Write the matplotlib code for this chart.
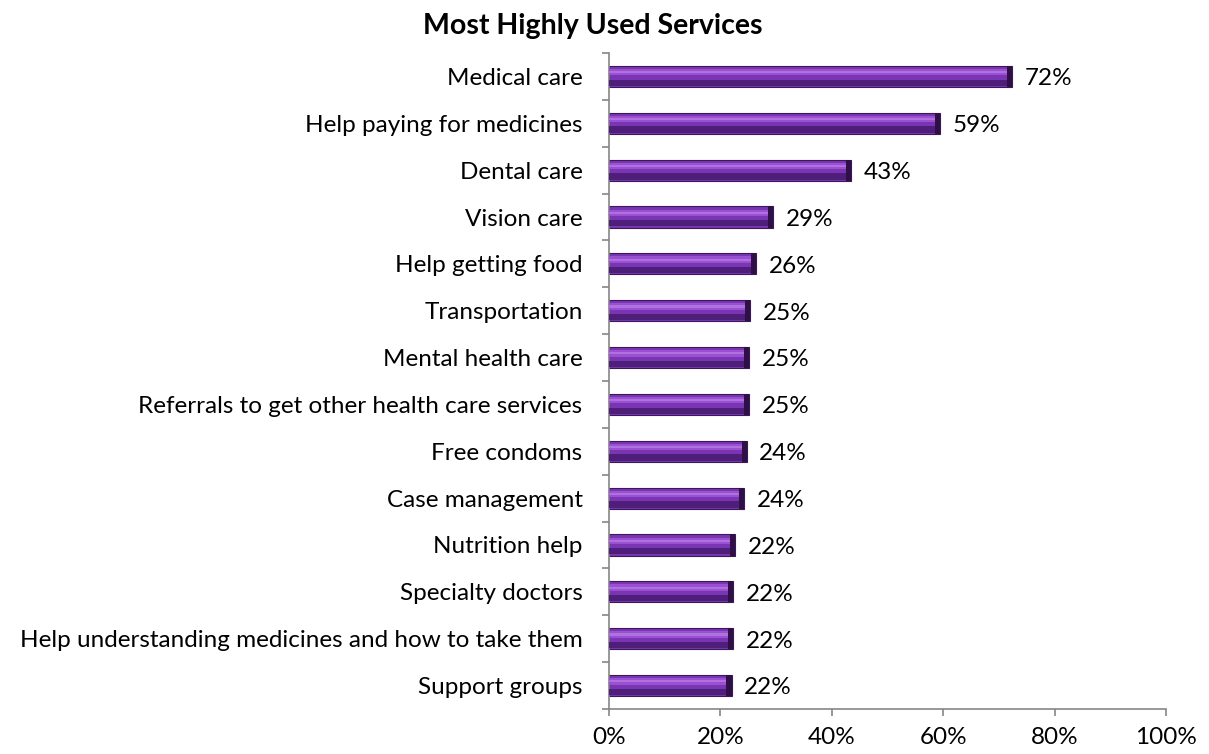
import matplotlib.pyplot as plt
import numpy as np
from matplotlib.ticker import FuncFormatter, FixedLocator

services = [
    "Medical care",
    "Help paying for medicines",
    "Dental care",
    "Vision care",
    "Help getting food",
    "Transportation",
    "Mental health care",
    "Referrals to get other health care services",
    "Free condoms",
    "Case management",
    "Nutrition help",
    "Specialty doctors",
    "Help understanding medicines and how to take them",
    "Support groups",
]
shares = [72.4, 59.4, 43.4, 29.4, 26.4, 25.3, 25.1, 25.1, 24.7, 24.2, 22.6, 22.3, 22.3, 22.0]
share_labels = ["72%", "59%", "43%", "29%", "26%", "25%", "25%", "25%", "24%", "24%", "22%", "22%", "22%", "22%"]

plt.rcParams["font.family"] = ["Lato", "DejaVu Sans"]

fig = plt.figure(figsize=(12.09, 7.54), dpi=100)
ax = fig.add_axes([0.5037, 0.0597, 0.9644 - 0.5037, 0.9297 - 0.0597])

y = np.arange(len(services))[::-1]
vals = np.array(shares)
h = 0.45

# base bar, dark bottom, light top stripe -> bevel look
ax.barh(y, vals, height=h, color="#7A35B5", edgecolor="#3B1858", linewidth=0.8, zorder=2)
ax.barh(y - h * 0.3, vals - 0.8, height=h * 0.3, color="#4E1F78", linewidth=0, zorder=3)
ax.barh(y + h * 0.2, vals - 0.8, height=h * 0.3, color="#9A50D0", linewidth=0, zorder=3)
ax.barh(y + h * 0.2, vals - 0.8, height=h * 0.1, color="#AE72DE", linewidth=0, zorder=3)
# dark right end cap
ax.barh(y, np.full_like(vals, 0.9), left=vals - 0.9, height=h, color="#2E1046", linewidth=0, zorder=4)

for yi, v, lab in zip(y, vals, share_labels):
    ax.text(v + 2.3, yi - 0.05, lab, va="center", ha="left", fontsize=17.5, color="black")

ax.set_xlim(0, 100)
ax.set_ylim(-0.5, len(services) - 0.5)
ax.set_xticks(np.arange(0, 101, 20))
ax.xaxis.set_major_formatter(FuncFormatter(lambda v, p: f"{int(v)}%"))
ax.set_yticks(y)
ax.set_yticklabels(services)
ax.yaxis.set_minor_locator(FixedLocator(np.arange(-0.5, len(services), 1.0)))
ax.tick_params(axis="y", which="major", length=0, pad=19, labelsize=17.5)
ax.tick_params(axis="y", which="minor", length=5, color="#868686", width=1.2)
ax.tick_params(axis="x", length=5, color="#868686", width=1.2, labelsize=17.5, pad=8)

for side in ["top", "right"]:
    ax.spines[side].set_visible(False)
for side in ["left", "bottom"]:
    ax.spines[side].set_color("#868686")
    ax.spines[side].set_linewidth(1.2)

fig.text(0.49, 0.965, "Most Highly Used Services", ha="center", va="center",
         fontsize=20.5, fontweight="bold")

fig.savefig("out.png", dpi=100)
